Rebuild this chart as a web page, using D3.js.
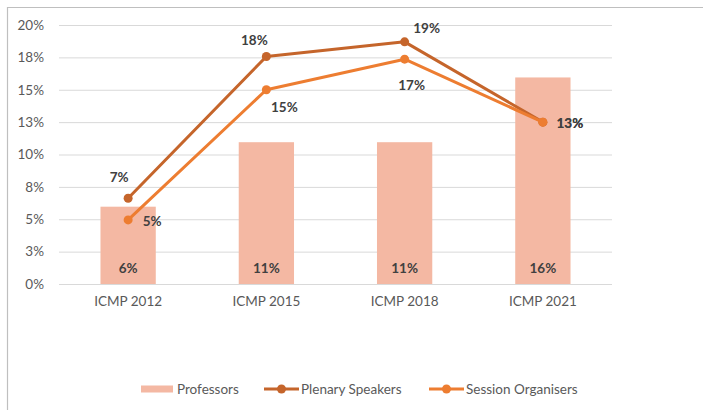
<!DOCTYPE html>
<html>
<head>
<meta charset="utf-8">
<script src="https://cdn.jsdelivr.net/npm/d3@7"></script>
<style>
  body { margin: 0; background: #fff; }
  svg { display: block; font-family: Lato, "Open Sans", sans-serif; }
</style>
</head>
<body>
<svg id="chart" width="703" height="410"></svg>
<script>
const categories = ['ICMP 2012', 'ICMP 2015', 'ICMP 2018', 'ICMP 2021'];
const professors = [5.97, 10.95, 10.95, 15.95];
const plenary = [6.62, 17.57, 18.7, 12.5];
const organisers = [4.95, 15.0, 17.36, 12.5];
const yTicks = [0, 2.5, 5, 7.5, 10, 12.5, 15, 17.5, 20];
const seriesNames = ['Professors', 'Plenary Speakers', 'Session Organisers'];

const colors = { bar: '#F4B8A3', plenary: '#C5652B', organisers: '#ED7D31', text: '#404040', axis: '#595959' };

// manual label nudges, like in the original spreadsheet
const plenaryNudge = [[-9, -21], [-12, -16], [22, -14], [27, 1]];
const organiserNudge = [[24, 1], [18, 18], [7, 26], [27, 1]];

const svg = d3.select('#chart');
const margin = { left: 59, right: 91, top: 25, bottom: 126 };
const width = 703, height = 410;

// outer frame
svg.append('path')
    .attr('d', `M7.5,${height} V7.5 H${width}`)
    .attr('fill', 'none')
    .attr('stroke', '#bfbfbf')
    .attr('stroke-width', 1.2);

const x = d3.scaleBand()
    .domain(categories)
    .range([margin.left, width - margin.right])
    .paddingInner(0.6)
    .paddingOuter(0.3);

const y = d3.scaleLinear()
    .domain([0, 20])
    .range([height - margin.bottom, margin.top]);

const pct = v => Math.round(v) + '%';

// gridlines
const grid = svg.append('g')
    .attr('transform', `translate(${margin.left},0)`)
    .call(d3.axisLeft(y).tickValues(yTicks).tickSize(-(width - margin.right - margin.left)).tickFormat(pct));
grid.select('.domain').remove();
grid.selectAll('.tick line').attr('stroke', '#d9d9d9').attr('stroke-width', 1);
grid.selectAll('.tick text')
    .attr('x', -15)
    .attr('fill', colors.axis)
    .attr('font-size', 13.5)
    .attr('font-family', 'Lato, sans-serif');

// category axis
const xAxis = svg.append('g')
    .attr('transform', `translate(0,${y(0)})`)
    .call(d3.axisBottom(x).tickSize(0).tickPadding(12));
xAxis.select('.domain').remove();
xAxis.selectAll('.tick text')
    .attr('fill', colors.axis)
    .attr('font-size', 13.5)
    .attr('font-family', 'Lato, sans-serif');

// bars
svg.append('g')
    .selectAll('rect')
    .data(professors)
    .join('rect')
    .attr('x', (d, i) => x(categories[i]))
    .attr('y', d => y(d))
    .attr('width', x.bandwidth())
    .attr('height', d => y(0) - y(d))
    .attr('fill', colors.bar);

svg.append('g')
    .selectAll('text')
    .data(professors)
    .join('text')
    .attr('x', (d, i) => x(categories[i]) + x.bandwidth() / 2)
    .attr('y', y(0) - 16)
    .attr('text-anchor', 'middle')
    .attr('dy', '0.35em')
    .attr('font-size', 13.5)
    .attr('font-weight', 'bold')
    .attr('fill', colors.text)
    .text(pct);

const cx = i => x(categories[i]) + x.bandwidth() / 2;

const line = d3.line()
    .x((d, i) => cx(i))
    .y(d => y(d));

function drawSeries(values, color, nudge) {
    const g = svg.append('g');
    g.append('path')
        .datum(values)
        .attr('d', line)
        .attr('fill', 'none')
        .attr('stroke', color)
        .attr('stroke-width', 3)
        .attr('stroke-linejoin', 'round');
    g.selectAll('circle')
        .data(values)
        .join('circle')
        .attr('cx', (d, i) => cx(i))
        .attr('cy', d => y(d))
        .attr('r', 4.5)
        .attr('fill', color);
    g.selectAll('text')
        .data(values)
        .join('text')
        .attr('x', (d, i) => cx(i) + nudge[i][0])
        .attr('y', (d, i) => y(d) + nudge[i][1])
        .attr('text-anchor', 'middle')
        .attr('dy', '0.35em')
        .attr('font-size', 13.5)
        .attr('font-weight', 'bold')
        .attr('fill', colors.text)
        .text(pct);
}

drawSeries(plenary, colors.plenary, plenaryNudge);
drawSeries(organisers, colors.organisers, organiserNudge);

// legend
const legendY = 389;
const legend = svg.append('g').attr('font-size', 13.5).attr('fill', colors.axis);

legend.append('rect')
    .attr('x', 141).attr('y', legendY - 3.5)
    .attr('width', 32).attr('height', 7)
    .attr('fill', colors.bar);
legend.append('text')
    .attr('x', 177).attr('y', legendY).attr('dy', '0.35em')
    .text(seriesNames[0]);

[[264, colors.plenary, seriesNames[1]], [429, colors.organisers, seriesNames[2]]].forEach(([lx, c, name]) => {
    legend.append('line')
        .attr('x1', lx).attr('x2', lx + 35)
        .attr('y1', legendY).attr('y2', legendY)
        .attr('stroke', c).attr('stroke-width', 3);
    legend.append('circle')
        .attr('cx', lx + 17.5).attr('cy', legendY)
        .attr('r', 4.5).attr('fill', c);
    legend.append('text')
        .attr('x', lx + 37).attr('y', legendY).attr('dy', '0.35em')
        .text(name);
});
</script>
</body>
</html>
